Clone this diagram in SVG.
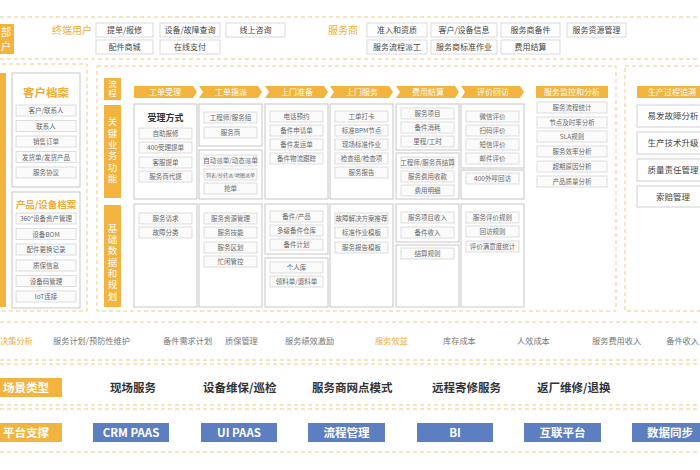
<svg xmlns="http://www.w3.org/2000/svg" width="700" height="470" viewBox="0 0 700 470">
<style>
text{font-family:"Noto Sans CJK SC","Noto Sans",sans-serif}
.dash{fill:none;stroke:#eccb86;stroke-width:1;stroke-dasharray:4 3}
.ob{fill:#f2b33f}
.wt{fill:#fff;text-anchor:middle;font-size:8px}
.col{fill:#fff;stroke:#c6c6c6;stroke-width:1}
.it rect{fill:#fbfbfb;stroke:#d4d4d4;stroke-width:0.8}
.it text{font-size:6.5px;fill:#666;text-anchor:middle}
.tb rect{fill:#fff;stroke:#cfcfcf;stroke-width:0.8}
.tb text{font-size:8px;fill:#444;text-anchor:middle}
.ot{fill:#f0ab34}
.dec{font-size:8.2px;fill:#777}
text.dec.ot{fill:#f0ab34}
.sc{font-size:11.5px;font-weight:bold;fill:#333}
.bl{fill:#5b7fc1}
.bt{fill:#fff;font-size:11.5px;font-weight:bold;text-anchor:middle}
.rb rect{fill:#fff;stroke:#cfcfcf}
.rb text{font-size:8.5px;fill:#444;text-anchor:middle}
.vt{fill:#fff;font-size:9.5px;text-anchor:middle;writing-mode:vertical-rl;letter-spacing:1.8px}
</style>
<rect width="700" height="470" fill="#fff"/>

<g id="frames">
<line class="dash" x1="0" y1="17" x2="700" y2="17"/>
<line class="dash" x1="0" y1="59" x2="700" y2="59"/>
<rect class="dash" x="-5" y="64" width="92" height="247"/>
<rect class="dash" x="97" y="66" width="519" height="245"/>
<rect class="dash" x="625" y="66" width="80" height="245"/>
<line class="dash" x1="0" y1="322" x2="700" y2="322"/>
<line class="dash" x1="0" y1="360" x2="700" y2="360"/>
<line class="dash" x1="0" y1="364" x2="700" y2="364"/>
<line class="dash" x1="0" y1="405" x2="700" y2="405"/>
<line class="dash" x1="0" y1="409" x2="700" y2="409"/>
<line class="dash" x1="0" y1="452" x2="700" y2="452"/>
</g>

<g id="top-row">
<rect class="ob" x="-20" y="24" width="34" height="30"/>
<text x="6" y="36" fill="#fff" font-size="10" text-anchor="middle">部</text>
<text x="6" y="50" fill="#fff" font-size="10" text-anchor="middle">户</text>
<text class="ot" x="72" y="34" font-size="10" text-anchor="middle">终端用户</text>
<g class="tb"><rect x="96" y="23" width="57" height="14"/><text x="124.5" y="33">提单/报修</text></g>
<g class="tb"><rect x="160" y="23" width="60" height="14"/><text x="190" y="33">设备/故障查询</text></g>
<g class="tb"><rect x="226" y="23" width="59" height="14"/><text x="255.5" y="33">线上咨询</text></g>
<g class="tb"><rect x="96" y="40" width="57" height="14"/><text x="124.5" y="50">配件商城</text></g>
<g class="tb"><rect x="160" y="40" width="60" height="14"/><text x="190" y="50">在线支付</text></g>
<text class="ot" x="343" y="34" font-size="10" text-anchor="middle">服务商</text>
<g class="tb"><rect x="367" y="23" width="60" height="14"/><text x="397" y="33">准入和资质</text></g>
<g class="tb"><rect x="431" y="23" width="66" height="14"/><text x="464" y="33">客户/设备信息</text></g>
<g class="tb"><rect x="501" y="23" width="59" height="14"/><text x="530.5" y="33">服务商备件</text></g>
<g class="tb"><rect x="567" y="23" width="59" height="14"/><text x="596.5" y="33">服务资源管理</text></g>
<g class="tb"><rect x="367" y="40" width="60" height="14"/><text x="397" y="50">服务流程派工</text></g>
<g class="tb"><rect x="431" y="40" width="66" height="14"/><text x="464" y="50">服务商标准作业</text></g>
<g class="tb"><rect x="501" y="40" width="59" height="14"/><text x="530.5" y="50">费用结算</text></g>
</g>

<g id="left-panel">
<rect class="ob" x="-20" y="73" width="26" height="234"/>
<g id="customer-file">
<rect class="col" x="12" y="73" width="68" height="114"/>
<text class="ot" x="46" y="97" font-size="11.5" font-weight="bold" text-anchor="middle">客户档案</text>
<g class="it"><rect x="16" y="105" width="60" height="11"/><text x="46" y="113.3">客户/联系人</text></g>
<g class="it"><rect x="16" y="120.5" width="60" height="11"/><text x="46" y="128.8">联系人</text></g>
<g class="it"><rect x="16" y="136" width="60" height="11"/><text x="46" y="144.3">销售订单</text></g>
<g class="it"><rect x="16" y="151.5" width="60" height="11"/><text x="46" y="159.8">发货单/发货产品</text></g>
<g class="it"><rect x="16" y="167" width="60" height="11"/><text x="46" y="175.3">服务协议</text></g>
</g>
<g id="product-file">
<rect class="col" x="12" y="192" width="68" height="116"/>
<text class="ot" x="46" y="208" font-size="9.5" font-weight="bold" text-anchor="middle">产品/设备档案</text>
<g class="it"><rect x="16" y="213" width="60" height="11"/><text x="46" y="221.3">360°设备资产管理</text></g>
<g class="it"><rect x="16" y="228.5" width="60" height="11"/><text x="46" y="236.8">设备BOM</text></g>
<g class="it"><rect x="16" y="244" width="60" height="11"/><text x="46" y="252.3">配件更换记录</text></g>
<g class="it"><rect x="16" y="260" width="60" height="11"/><text x="46" y="268.3">质保信息</text></g>
<g class="it"><rect x="16" y="275.5" width="60" height="11"/><text x="46" y="283.8">设备码管理</text></g>
<g class="it"><rect x="16" y="291" width="60" height="11"/><text x="46" y="299.3">IoT连接</text></g>
</g>
</g>

<g id="row-labels">
<rect class="ob" x="104" y="78" width="17" height="22"/>
<text class="vt" x="112.5" y="89" style="font-size:8.5px;letter-spacing:0.5px">流程</text>
<rect class="ob" x="104" y="105" width="17" height="93"/>
<text class="vt" x="112.5" y="151">关键业务功能</text>
<rect class="ob" x="104" y="205" width="17" height="102"/>
<text class="vt" x="112.5" y="263">基础数据和规划</text>
</g>

<g id="process-steps">
<path class="ob" d="M134,86H193L197,92L193,98H134Z"/><text class="wt" x="165" y="95">工单受理</text>
<path class="ob" d="M199,86H258L262,92L258,98H199L203,92Z"/><text class="wt" x="231" y="95">工单指派</text>
<path class="ob" d="M265,86H324L328,92L324,98H265L269,92Z"/><text class="wt" x="297" y="95">上门准备</text>
<path class="ob" d="M330,86H389L393,92L389,98H330L334,92Z"/><text class="wt" x="362" y="95">上门服务</text>
<path class="ob" d="M396,86H455L459,92L455,98H396L400,92Z"/><text class="wt" x="428" y="95">费用结算</text>
<path class="ob" d="M461,86H520L524,92L520,98H461L465,92Z"/><text class="wt" x="493" y="95">评价回访</text>
<rect class="ob" x="536" y="86" width="72" height="12"/><text class="wt" x="572" y="95">服务监控和分析</text>
</g>

<g id="col-accept">
<rect class="col" x="134" y="104" width="63" height="95"/>
<text x="165.5" y="121" font-size="9" font-weight="bold" fill="#333" text-anchor="middle">受理方式</text>
<g class="it"><rect x="139" y="128" width="53" height="11"/><text x="165.5" y="136.3">自助报修</text></g>
<g class="it"><rect x="139" y="142" width="53" height="11"/><text x="165.5" y="150.3">400受理提单</text></g>
<g class="it"><rect x="139" y="157" width="53" height="11"/><text x="165.5" y="165.3">客服提单</text></g>
<g class="it"><rect x="139" y="171" width="53" height="11"/><text x="165.5" y="179.3">服务商代提</text></g>
<rect class="col" x="134" y="204" width="63" height="103"/>
<g class="it"><rect x="139" y="213" width="53" height="11"/><text x="165.5" y="221.3">服务请求</text></g>
<g class="it"><rect x="139" y="227" width="53" height="11"/><text x="165.5" y="235.3">故障分类</text></g>
</g>

<g id="col-assign">
<rect class="col" x="199" y="104" width="63" height="42"/>
<g class="it"><rect x="204" y="112" width="53" height="11"/><text x="230.5" y="120.3">工程师/服务组</text></g>
<g class="it"><rect x="204" y="127" width="53" height="11"/><text x="230.5" y="135.3">服务商</text></g>
<rect class="col" x="199" y="150" width="63" height="49"/>
<g class="it"><rect x="204" y="155" width="53" height="11"/><text x="230.5" y="163.3">自动派单/动态派单</text></g>
<g class="it"><rect x="204" y="169" width="53" height="11"/><text x="230.5" y="176.8" style="font-size:5px">列表/抄转派/地图派单</text></g>
<g class="it"><rect x="204" y="183" width="53" height="11"/><text x="230.5" y="191.3">抢单</text></g>
<rect class="col" x="199" y="204" width="63" height="103"/>
<g class="it"><rect x="204" y="213" width="53" height="11"/><text x="230.5" y="221.3">服务资源管理</text></g>
<g class="it"><rect x="204" y="227" width="53" height="11"/><text x="230.5" y="235.3">服务技能</text></g>
<g class="it"><rect x="204" y="242" width="53" height="11"/><text x="230.5" y="250.3">服务区划</text></g>
<g class="it"><rect x="204" y="256" width="53" height="11"/><text x="230.5" y="264.3">忙闲管控</text></g>
</g>

<g id="col-prepare">
<rect class="col" x="265" y="104" width="63" height="95"/>
<g class="it"><rect x="270" y="111" width="53" height="11"/><text x="296.5" y="119.3">电话预约</text></g>
<g class="it"><rect x="270" y="125" width="53" height="11"/><text x="296.5" y="133.3">备件申请单</text></g>
<g class="it"><rect x="270" y="139" width="53" height="11"/><text x="296.5" y="147.3">备件发运单</text></g>
<g class="it"><rect x="270" y="153" width="53" height="11"/><text x="296.5" y="161.3">备件物流跟踪</text></g>
<rect class="col" x="265" y="204" width="63" height="50"/>
<g class="it"><rect x="270" y="211" width="53" height="11"/><text x="296.5" y="219.3">备件/产品</text></g>
<g class="it"><rect x="270" y="225" width="53" height="11"/><text x="296.5" y="233.3">多级备件仓库</text></g>
<g class="it"><rect x="270" y="239" width="53" height="11"/><text x="296.5" y="247.3">备件计划</text></g>
<rect class="col" x="265" y="258" width="63" height="49"/>
<g class="it"><rect x="270" y="262" width="53" height="11"/><text x="296.5" y="270.3">个人库</text></g>
<g class="it"><rect x="270" y="276" width="53" height="11"/><text x="296.5" y="284.3">领料单/退料单</text></g>
</g>

<g id="col-service">
<rect class="col" x="330" y="104" width="63" height="95"/>
<g class="it"><rect x="335" y="111" width="53" height="11"/><text x="361.5" y="119.3">工单打卡</text></g>
<g class="it"><rect x="335" y="125" width="53" height="11"/><text x="361.5" y="133.3">标准BPM节点</text></g>
<g class="it"><rect x="335" y="139" width="53" height="11"/><text x="361.5" y="147.3">现场标准作业</text></g>
<g class="it"><rect x="335" y="153" width="53" height="11"/><text x="361.5" y="161.3">检查组/检查项</text></g>
<g class="it"><rect x="335" y="167" width="53" height="11"/><text x="361.5" y="175.3">服务报告</text></g>
<rect class="col" x="330" y="204" width="63" height="103"/>
<g class="it"><rect x="335" y="213" width="53" height="11"/><text x="361.5" y="221.3">故障解决方案推荐</text></g>
<g class="it"><rect x="335" y="227" width="53" height="11"/><text x="361.5" y="235.3">标准作业模板</text></g>
<g class="it"><rect x="335" y="242" width="53" height="11"/><text x="361.5" y="250.3">服务报告模板</text></g>
</g>

<g id="col-settle">
<rect class="col" x="396" y="104" width="63" height="46"/>
<g class="it"><rect x="401" y="108" width="53" height="11"/><text x="427.5" y="116.3">服务项目</text></g>
<g class="it"><rect x="401" y="122" width="53" height="11"/><text x="427.5" y="130.3">备件消耗</text></g>
<g class="it"><rect x="401" y="136" width="53" height="11"/><text x="427.5" y="144.3">里程/工时</text></g>
<rect class="col" x="396" y="153" width="63" height="46"/>
<g class="it"><rect x="401" y="157" width="53" height="11"/><text x="427.5" y="165.3">工程师/服务商结算</text></g>
<g class="it"><rect x="401" y="171" width="53" height="11"/><text x="427.5" y="179.3">服务费用收款</text></g>
<g class="it"><rect x="401" y="185" width="53" height="11"/><text x="427.5" y="193.3">费用明细</text></g>
<rect class="col" x="396" y="204" width="63" height="38"/>
<g class="it"><rect x="401" y="212" width="53" height="11"/><text x="427.5" y="220.3">服务项目收入</text></g>
<g class="it"><rect x="401" y="227" width="53" height="11"/><text x="427.5" y="235.3">备件收入</text></g>
<rect class="col" x="396" y="245" width="63" height="62"/>
<g class="it"><rect x="401" y="248" width="53" height="11"/><text x="427.5" y="256.3">结算规则</text></g>
</g>

<g id="col-review">
<rect class="col" x="461" y="104" width="63" height="64"/>
<g class="it"><rect x="466" y="111" width="53" height="11"/><text x="492.5" y="119.3">微信评价</text></g>
<g class="it"><rect x="466" y="125" width="53" height="11"/><text x="492.5" y="133.3">扫码评价</text></g>
<g class="it"><rect x="466" y="139" width="53" height="11"/><text x="492.5" y="147.3">短信评价</text></g>
<g class="it"><rect x="466" y="153" width="53" height="11"/><text x="492.5" y="161.3">邮件评价</text></g>
<rect class="col" x="461" y="170" width="63" height="29"/>
<g class="it"><rect x="466" y="173" width="53" height="11"/><text x="492.5" y="181.3">400外呼回访</text></g>
<rect class="col" x="461" y="204" width="63" height="103"/>
<g class="it"><rect x="466" y="212" width="53" height="11"/><text x="492.5" y="220.3">服务评价规则</text></g>
<g class="it"><rect x="466" y="226" width="53" height="11"/><text x="492.5" y="234.3">回访规则</text></g>
<g class="it"><rect x="466" y="241" width="53" height="11"/><text x="492.5" y="249.3">评价满意度统计</text></g>
</g>

<g id="col-monitor">
<g class="it"><rect x="537" y="102" width="70" height="11"/><text x="572" y="110.3">服务流程统计</text></g>
<g class="it"><rect x="537" y="117" width="70" height="11"/><text x="572" y="125.3">节点及时率分析</text></g>
<g class="it"><rect x="537" y="131" width="70" height="11"/><text x="572" y="139.3">SLA规则</text></g>
<g class="it"><rect x="537" y="146" width="70" height="11"/><text x="572" y="154.3">服务效率分析</text></g>
<g class="it"><rect x="537" y="161" width="70" height="11"/><text x="572" y="169.3">超期原因分析</text></g>
<g class="it"><rect x="537" y="176" width="70" height="11"/><text x="572" y="184.3">产品质量分析</text></g>
</g>

<g id="right-panel">
<rect class="ob" x="637" y="86" width="72" height="12"/><text class="wt" x="672" y="95">生产过程追溯</text>
<g class="rb"><rect x="637" y="105" width="72" height="22"/><text x="673" y="119">易发故障分析</text></g>
<g class="rb"><rect x="637" y="132" width="72" height="22"/><text x="673" y="146">生产技术升级</text></g>
<g class="rb"><rect x="637" y="159" width="72" height="22"/><text x="673" y="173">质量责任管理</text></g>
<g class="rb"><rect x="637" y="186" width="72" height="21"/><text x="673" y="199.5">索赔管理</text></g>
</g>

<g id="decision-row">
<text class="dec ot" x="0" y="344">决策分析</text>
<text class="dec" x="53" y="344">服务计划/预防性维护</text>
<text class="dec" x="163" y="344">备件需求计划</text>
<text class="dec" x="225" y="344">质保管理</text>
<text class="dec" x="285" y="344">服务绩效激励</text>
<text class="dec ot" x="375" y="344">服务效益</text>
<text class="dec" x="443" y="344">库存成本</text>
<text class="dec" x="517" y="344">人效成本</text>
<text class="dec" x="592" y="344">服务费用收入</text>
<text class="dec" x="699" y="344" text-anchor="end">备件收入</text>
</g>

<g id="scene-row">
<rect class="ob" x="-5" y="378" width="67" height="19"/>
<text x="3" y="392" fill="#fff" font-size="11.5" font-weight="bold">场景类型</text>
<text class="sc" x="110" y="392">现场服务</text>
<text class="sc" x="203" y="392">设备维保/巡检</text>
<text class="sc" x="312" y="392">服务商网点模式</text>
<text class="sc" x="432" y="392">远程寄修服务</text>
<text class="sc" x="537" y="392">返厂维修/退换</text>
</g>

<g id="platform-row">
<rect class="ob" x="-5" y="423" width="67" height="19"/>
<text x="3" y="437" fill="#fff" font-size="11.5" font-weight="bold">平台支撑</text>
<rect class="bl" x="93" y="423" width="76" height="19"/><text class="bt" x="131" y="437">CRM PAAS</text>
<rect class="bl" x="201" y="423" width="76" height="19"/><text class="bt" x="239" y="437">UI  PAAS</text>
<rect class="bl" x="308" y="423" width="77" height="19"/><text class="bt" x="346.5" y="437">流程管理</text>
<rect class="bl" x="417" y="423" width="76" height="19"/><text class="bt" x="455" y="437">BI</text>
<rect class="bl" x="524" y="423" width="77" height="19"/><text class="bt" x="562.5" y="437">互联平台</text>
<rect class="bl" x="632" y="423" width="76" height="19"/><text class="bt" x="670" y="437">数据同步</text>
</g>
</svg>
